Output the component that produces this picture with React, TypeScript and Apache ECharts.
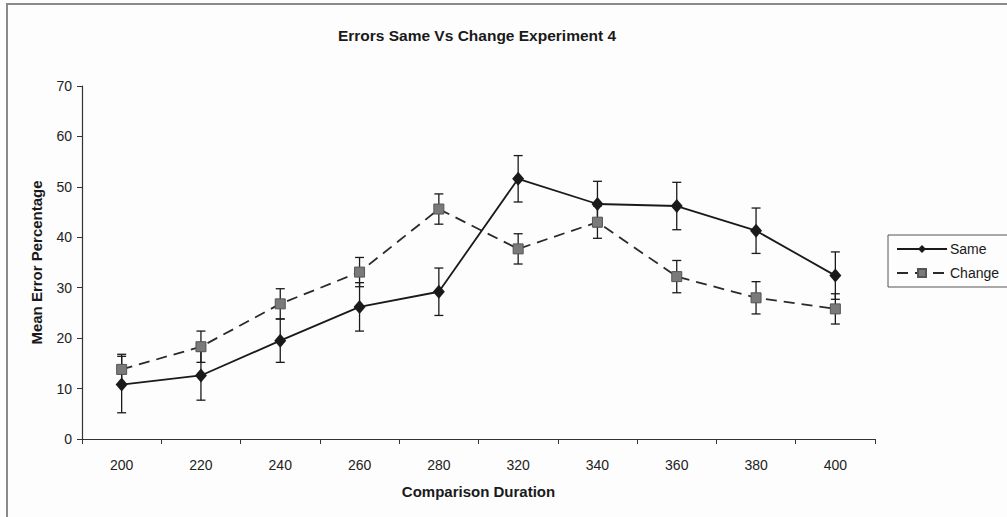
import React, { useEffect, useRef } from "react";
import * as echarts from "echarts";

const categories = ["200", "220", "240", "260", "280", "320", "340", "360", "380", "400"];
const sameValues = [10.8, 12.6, 19.5, 26.2, 29.2, 51.6, 46.6, 46.2, 41.3, 32.4];
const sameErrors = [5.6, 4.9, 4.3, 4.8, 4.7, 4.6, 4.5, 4.7, 4.5, 4.7];
const changeValues = [13.8, 18.3, 26.8, 33.1, 45.6, 37.7, 43.0, 32.2, 28.0, 25.8];
const changeErrors = [3.0, 3.1, 3.0, 2.9, 3.0, 3.0, 3.2, 3.2, 3.2, 3.0];
const yTicks = [0, 10, 20, 30, 40, 50, 60, 70];

const FONT = "'Liberation Sans', Arial, sans-serif";

function errorData(values: number[], errs: number[]) {
  return values.map((v, i) => [i, v - errs[i], v + errs[i]]);
}

function errorRender(params: any, api: any) {
  const x = api.value(0);
  const lo = api.coord([x, api.value(1)]);
  const hi = api.coord([x, api.value(2)]);
  const cap = 4.5;
  const style = { stroke: "#1a1a1a", lineWidth: 1.3 };
  return {
    type: "group",
    children: [
      { type: "line", shape: { x1: lo[0], y1: lo[1], x2: hi[0], y2: hi[1] }, style },
      { type: "line", shape: { x1: lo[0] - cap, y1: lo[1], x2: lo[0] + cap, y2: lo[1] }, style },
      { type: "line", shape: { x1: hi[0] - cap, y1: hi[1], x2: hi[0] + cap, y2: hi[1] }, style },
    ],
  };
}

export default function App() {
  const ref = useRef<HTMLDivElement>(null);

  useEffect(() => {
    if (!ref.current) return;
    const chart = echarts.init(ref.current, null, { renderer: "svg" });
    chart.setOption({
      animation: false,
      backgroundColor: "#fdfdfd",
      textStyle: { fontFamily: FONT },
      title: {
        text: "Errors Same Vs Change Experiment 4",
        left: 472,
        top: 22,
        textAlign: "center",
        textStyle: { fontFamily: FONT, fontSize: 15.5, fontWeight: "bold", color: "#1a1a1a" },
      },
      grid: { left: 82, right: 132, top: 86, bottom: 78 },
      legend: {
        data: ["Same", "Change"],
        orient: "vertical",
        left: 888,
        top: 235,
        itemWidth: 50,
        itemHeight: 10,
        itemGap: 10,
        padding: [7, 10, 7, 8],
        borderColor: "#555",
        borderWidth: 1,
        backgroundColor: "#fdfdfd",
        textStyle: { fontFamily: FONT, fontSize: 14, color: "#1a1a1a", padding: [0, 0, 0, -2] },
      },
      graphic: [
        {
          type: "rect",
          shape: { x: 7, y: 4, width: 1020, height: 530 },
          style: { fill: "none", stroke: "#8a8a8a", lineWidth: 2 },
          silent: true,
        },
      ],
      xAxis: {
        type: "category",
        data: categories,
        boundaryGap: true,
        name: "Comparison Duration",
        nameLocation: "middle",
        nameGap: 45,
        nameTextStyle: { fontFamily: FONT, fontSize: 15, fontWeight: "bold", color: "#1a1a1a" },
        axisLine: { lineStyle: { color: "#333", width: 1.2 } },
        axisTick: { show: true, length: 5, lineStyle: { color: "#333" } },
        axisLabel: { margin: 19, fontSize: 14, color: "#222", fontFamily: FONT },
        splitLine: { show: false },
      },
      yAxis: {
        type: "value",
        min: yTicks[0],
        max: yTicks[yTicks.length - 1],
        interval: 10,
        name: "Mean Error Percentage",
        nameLocation: "middle",
        nameGap: 38,
        nameTextStyle: { fontFamily: FONT, fontSize: 15, fontWeight: "bold", color: "#1a1a1a" },
        axisLine: { show: true, lineStyle: { color: "#333", width: 1.2 } },
        axisTick: { show: true, length: 5, lineStyle: { color: "#333" } },
        axisLabel: { margin: 10, fontSize: 14, color: "#222", fontFamily: FONT },
        splitLine: { show: false },
      },
      series: [
        {
          name: "ChangeErr",
          type: "custom",
          renderItem: errorRender,
          data: errorData(changeValues, changeErrors),
          encode: { x: 0, y: [1, 2] },
          z: 3,
          silent: true,
        },
        {
          name: "SameErr",
          type: "custom",
          renderItem: errorRender,
          data: errorData(sameValues, sameErrors),
          encode: { x: 0, y: [1, 2] },
          z: 3,
          silent: true,
        },
        {
          name: "Change",
          type: "line",
          data: changeValues,
          symbol: "rect",
          symbolSize: 10,
          itemStyle: { color: "#7a7a7a", borderColor: "#555", borderWidth: 1 },
          lineStyle: { color: "#2a2a2a", width: 1.8, type: [11, 7] },
          z: 4,
        },
        {
          name: "Same",
          type: "line",
          data: sameValues,
          symbol: "diamond",
          symbolSize: [12, 14],
          itemStyle: { color: "#1a1a1a" },
          lineStyle: { color: "#1a1a1a", width: 1.8 },
          z: 5,
        },
      ],
    });
    return () => chart.dispose();
  }, []);

  return (
    <div
      ref={ref}
      style={{ position: "fixed", left: 0, top: 0, width: 1007, height: 517 }}
    />
  );
}
